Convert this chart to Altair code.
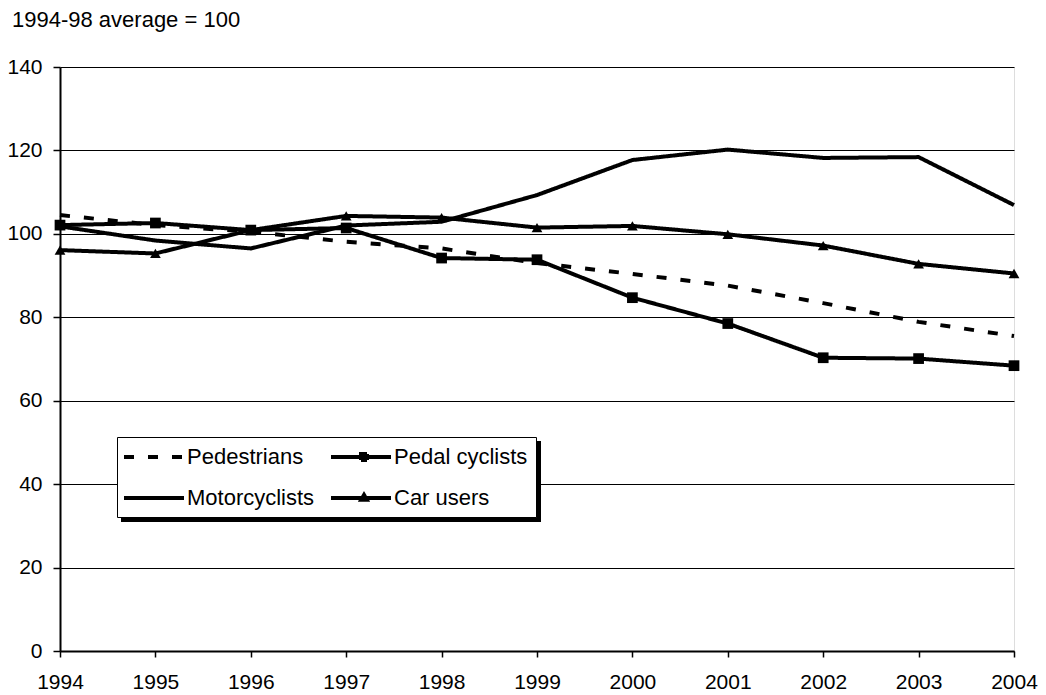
import altair as alt
import pandas as pd

years = list(range(1994, 2005))
pedestrians = [104.5, 102.1, 100.5, 98.1, 96.5, 93.0, 90.4, 87.6, 83.4, 78.9, 75.5]
pedal_cyclists = [102.1, 102.6, 100.9, 101.4, 94.2, 93.8, 84.7, 78.5, 70.3, 70.1, 68.4]
motorcyclists = [101.8, 98.4, 96.5, 102.0, 102.9, 109.3, 117.7, 120.2, 118.2, 118.4, 106.9]
car_users = [96.1, 95.3, 100.9, 104.3, 103.9, 101.5, 101.9, 99.9, 97.2, 92.8, 90.5]
series_names = ["Pedestrians", "Pedal cyclists", "Motorcyclists", "Car users"]
y_ticks = [0, 20, 40, 60, 80, 100, 120, 140]
title_text = "1994-98 average = 100"

rows = []
for name, vals in zip(series_names, [pedestrians, pedal_cyclists, motorcyclists, car_users]):
    for yr, v in zip(years, vals):
        rows.append({"Year": yr, "Index": v, "Series": name})
df = pd.DataFrame(rows)

FONT = "Liberation Sans"

x = alt.X(
    "Year:Q",
    scale=alt.Scale(domain=[1994, 2004], nice=False, zero=False),
    axis=alt.Axis(values=years, format="d", title=None, grid=False, labelFlush=False,
                  tickSize=6, labelPadding=14, labelFontSize=21, labelFont=FONT,
                  labelColor="black", domainColor="black", domainWidth=2,
                  tickColor="black", tickWidth=1.5),
)
y = alt.Y(
    "Index:Q",
    scale=alt.Scale(domain=[0, 140], nice=False),
    axis=alt.Axis(values=y_ticks, title=None, grid=True, gridColor="black", gridWidth=1,
                  gridOpacity=1, tickSize=7, labelPadding=11, labelFontSize=21,
                  labelFlush=False, labelFont=FONT, labelColor="black",
                  domainColor="black", domainWidth=2, tickColor="black", tickWidth=1.5),
)

# legend symbol: sqrt(size)=20 -> r=10; path x in [-1.3,4.7] -> 60 px wide
shape_expr = (
    "datum.value === 'Pedal cyclists' ? 'M-1.3,0H4.7M1.7,-0.3H2.3V0.3H1.7Z' : "
    "(datum.value === 'Car users' ? 'M-1.3,0H4.7M2,-0.3L2.27,0.17H1.73Z' : 'M-1.3,0H4.7')"
)

legend = alt.Legend(
    title=None, orient="none", legendX=57, legendY=370, columns=2, direction="horizontal",
    symbolType={"expr": shape_expr},
    symbolSize=400, symbolStrokeWidth=4, symbolStrokeColor="black",
    symbolFillColor="black", labelFontSize=22, labelFont=FONT, labelColor="black",
    labelOffset=38, padding=8, rowPadding=18, columnPadding=8,
    fillColor="white", strokeColor="black",
)

lines = alt.Chart(df).mark_line(color="black", strokeWidth=4, strokeJoin="round").encode(
    x=x, y=y,
    strokeDash=alt.StrokeDash(
        "Series:N",
        scale=alt.Scale(domain=series_names, range=[[10, 14], [1, 0], [1, 0], [1, 0]]),
        legend=legend,
    ),
    order=alt.Order("Year:Q"),
)

points = alt.Chart(df).transform_filter(
    alt.FieldOneOfPredicate(field="Series", oneOf=["Pedal cyclists", "Car users"])
).mark_point(filled=True, color="black", opacity=1).encode(
    x=x, y=y,
    shape=alt.Shape("Series:N",
                    scale=alt.Scale(domain=["Pedal cyclists", "Car users"],
                                    range=["square", "triangle-up"]),
                    legend=None),
    size=alt.value(115),
)

shadow = alt.Chart(pd.DataFrame({"k": [0]})).mark_rect(color="black").encode(
    x=alt.value(61), x2=alt.value(481), y=alt.value(374), y2=alt.value(455)
)

title = alt.Chart(pd.DataFrame({"k": [0]})).mark_text(
    text=title_text, align="left", baseline="alphabetic", fontSize=22, font=FONT,
    color="black"
).encode(x=alt.value(-48), y=alt.value(-40))

chart = alt.layer(shadow, lines, points, title).properties(
    width=954, height=584,
    autosize=alt.AutoSizeParams(type="none"),
    padding={"left": 52, "top": 59, "right": 24, "bottom": 44},
).configure_view(stroke="black", strokeWidth=2).configure(background="white")

chart.save("out.html", embed_options={"renderer": "svg", "actions": False})
